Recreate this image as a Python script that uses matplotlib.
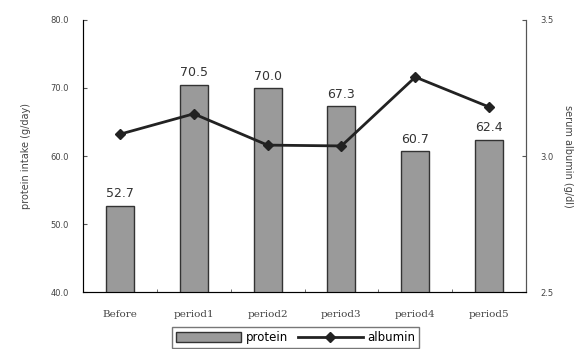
import matplotlib
matplotlib.use("Agg")
import matplotlib.pyplot as plt
import numpy as np

categories = ["Before", "period1", "period2", "period3", "period4", "period5"]
protein = [52.7, 70.5, 70.0, 67.3, 60.7, 62.4]
albumin = [3.08, 3.155, 3.04, 3.037, 3.29, 3.18]

fig = plt.figure(figsize=(5.8, 3.49), dpi=100)
ax = fig.add_axes([0.143, 0.163, 0.764, 0.780])
x = np.arange(len(categories))

bars = ax.bar(x, protein, width=0.38, color="#9a9a9a", edgecolor="#333333",
              linewidth=1.0, label="protein", zorder=2)
for xi, v in zip(x, protein):
    ax.text(xi, v + 0.8, f"{v:.1f}", ha="center", va="bottom",
            fontsize=9, color="#333333")

ax.set_xlim(-0.5, 5.5)
ax.set_ylim(40, 80)
ax.set_yticks([40, 50, 60, 70, 80])
ax.set_yticklabels([f"{t:.1f}" for t in [40, 50, 60, 70, 80]],
                   fontsize=6, color="#444444")
ax.set_xticks(x)
ax.set_xticklabels(categories, family="DejaVu Serif", fontsize=7.5, color="#444444")
ax.set_xticks(np.arange(0.5, 5.5, 1.0), minor=True)
ax.tick_params(axis="x", which="major", length=0, pad=13)
ax.tick_params(axis="x", which="minor", direction="in", length=2, color="#555555")
ax.tick_params(axis="y", direction="in", length=3, color="#555555", pad=10)
ax.set_ylabel("protein intake (g/day)", fontsize=7, color="#444444", labelpad=14)
ax.spines["top"].set_visible(False)
for s in ["left", "bottom", "right"]:
    ax.spines[s].set_color("#555555")

ax2 = ax.twinx()
line, = ax2.plot(x, albumin, color="#222222", linewidth=2.0, marker="D",
                 markersize=5, label="albumin", zorder=3)
ax2.set_ylim(2.5, 3.5)
ax2.set_yticks([2.5, 3.0, 3.5])
ax2.set_yticklabels(["2.5", "3.0", "3.5"], fontsize=6, color="#444444")
ax2.tick_params(axis="y", direction="in", length=3, color="#555555", pad=10)
ax2.set_ylabel("serum albumin (g/dl)", fontsize=7, color="#444444",
               rotation=270, labelpad=14)
ax2.spines["top"].set_visible(False)
ax2.spines["right"].set_color("#555555")

leg = fig.legend([bars, line], ["protein", "albumin"], loc="lower center",
                 bbox_to_anchor=(0.51, -0.015), ncol=2, fontsize=8.5,
                 frameon=True, fancybox=False, edgecolor="#555555",
                 handlelength=5.5, handleheight=0.9, columnspacing=0.8,
                 handletextpad=0.4, borderpad=0.35)

fig.savefig("out.png", dpi=100)
